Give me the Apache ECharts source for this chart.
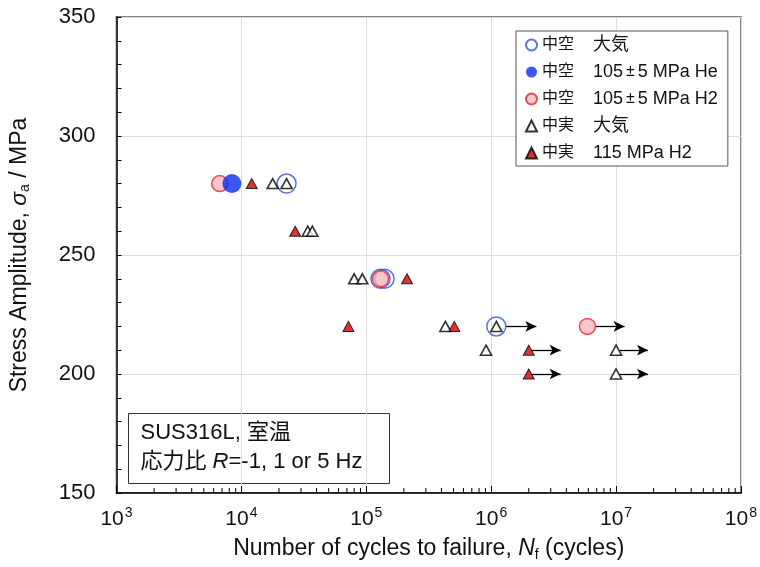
<!DOCTYPE html>
<html>
<head>
<meta charset="utf-8">
<script src="https://cdn.jsdelivr.net/npm/echarts@6/dist/echarts.min.js"></script>
<style>
  html, body { margin: 0; padding: 0; background: #fff; }
  #chart { width: 760px; height: 567px; }
</style>
</head>
<body>
<div id="chart"></div>
<script>
const FONT = '"Liberation Sans", Arial, "Noto Sans CJK JP", sans-serif';

// series: [cycles, stress amplitude]
const hollowCircle = [[2.3e4, 280], [1.3e5, 240], [1.4e5, 240], [1.1e6, 220]];
const blueFilled = [[8.4e3, 280]];
const pinkCircle = [[6.7e3, 280], [1.3e5, 240], [5.9e6, 220]];
const hollowTri = [[1.78e4, 280], [2.3e4, 280], [3.4e4, 260], [3.7e4, 260], [8.0e4, 240], [9.3e4, 240],
  [4.3e5, 220], [1.1e6, 220], [9.1e5, 210], [1e7, 210], [1e7, 200]];
const redTri = [[1.21e4, 280], [2.7e4, 260], [2.12e5, 240], [7.2e4, 220], [5.07e5, 220], [2e6, 210], [2e6, 200]];

// run-out arrows: [line start cycles, arrow tip cycles, stress]
const runouts = [[1.32e6, 2.3e6, 220], [6.9e6, 1.17e7, 220], [2.1e6, 3.6e6, 210], [2.1e6, 3.6e6, 200],
  [1.07e7, 1.8e7, 210], [1.07e7, 1.8e7, 200]];

const legendLabels = {
  s1: ['中空', '大気'],
  s2: ['中空', '105', '±', '5 MPa He'],
  s3: ['中空', '105', '±', '5 MPa H2'],
  s4: ['中実', '大気'],
  s5: ['中実', '115 MPa H2']
};

const minorTicksX = [];
[1e3, 1e4, 1e5, 1e6, 1e7].forEach(function (d) {
  for (let k = 2; k <= 9; k++) minorTicksX.push([k * d, 150]);
});

const chart = echarts.init(document.getElementById('chart'));

const option = {
  animation: false,
  textStyle: { fontFamily: FONT },
  grid: {
    left: 116, right: 17, top: 17, bottom: 71,
    show: true, borderColor: '#808080', borderWidth: 1.8
  },
  legend: {
    orient: 'vertical',
    left: 516, top: 31,
    padding: [4, 10, 3, 9],
    itemGap: 7,
    itemWidth: 11, itemHeight: 11,
    backgroundColor: '#fff',
    borderColor: '#555', borderWidth: 1,
    data: ['s1', 's2', 's3', 's4', 's5'],
    formatter: function (name) {
      const l = legendLabels[name];
      let s = '{a|' + l[0] + '}{b|' + l[1] + '}';
      if (l.length > 2) s += '{pm|' + l[2] + '}{b|' + l[3] + '}';
      return s;
    },
    textStyle: {
      fontSize: 18, color: '#111', fontFamily: FONT, lineHeight: 20,
      rich: {
        a: { fontSize: 16, width: 51, lineHeight: 20, fontFamily: FONT, color: '#111' },
        b: { fontSize: 18, lineHeight: 20, fontFamily: FONT, color: '#111' },
        pm: { fontSize: 16, lineHeight: 20, padding: [0, 3, 0, 3], fontFamily: FONT, color: '#111' }
      }
    }
  },
  xAxis: {
    type: 'log',
    logBase: 10,
    min: 1e3, max: 1e8,
    name: '{n|Number of cycles to failure, }{i|N}{sub|f}{n| (cycles)}',
    nameLocation: 'middle',
    nameGap: 43,
    nameTextStyle: {
      rich: {
        n: { fontSize: 23, color: '#111', fontFamily: FONT },
        i: { fontSize: 23, color: '#111', fontStyle: 'italic', fontFamily: FONT },
        sub: { fontSize: 14, color: '#111', padding: [12, 0, 0, 0], fontFamily: FONT }
      }
    },
    axisLine: { lineStyle: { color: '#000', width: 1.5 } },
    axisTick: { inside: true, length: 7, lineStyle: { color: '#000' } },
    splitLine: { show: true, lineStyle: { color: '#ddd', width: 1 } },
    axisLabel: {
      margin: 13,
      formatter: function (v) {
        return '{b|10}{s|' + Math.round(Math.log10(v)) + '}';
      },
      rich: {
        b: { fontSize: 21, color: '#111', fontFamily: FONT },
        s: { fontSize: 14, color: '#111', padding: [0, 0, 12, 1], fontFamily: FONT }
      }
    }
  },
  yAxis: {
    type: 'value',
    min: 150, max: 350, interval: 50,
    name: '{n|Stress Amplitude, }{i|\u03c3}{sub|a}{n| / MPa}',
    nameLocation: 'middle',
    nameGap: 84,
    nameRotate: 90,
    nameTextStyle: {
      rich: {
        n: { fontSize: 23, color: '#111', fontFamily: FONT },
        i: { fontSize: 23, color: '#111', fontStyle: 'italic', fontFamily: FONT },
        sub: { fontSize: 14, color: '#111', padding: [12, 0, 0, 0], fontFamily: FONT }
      }
    },
    axisLine: { show: true, lineStyle: { color: '#000', width: 1.5 } },
    axisTick: { inside: true, length: 5, lineStyle: { color: '#000' } },
    minorTick: { show: true, splitNumber: 5, length: 5, lineStyle: { color: '#000' } },
    splitLine: { show: true, lineStyle: { color: '#ddd', width: 1 } },
    axisLabel: { fontSize: 22, color: '#111', margin: 21, fontFamily: FONT }
  },
  graphic: [{
    type: 'group',
    left: 128, top: 413,
    z: 100,
    children: [{
      type: 'rect',
      shape: { x: 0, y: 0, width: 261, height: 70 },
      style: { fill: '#fff', stroke: '#333', lineWidth: 1 }
    }, {
      type: 'text',
      x: 12, y: 8,
      style: { text: 'SUS316L, 室温', font: '22px ' + FONT, fill: '#111' }
    }, {
      type: 'text',
      x: 12, y: 37,
      style: {
        text: '{n|応力比 }{i|R}{n|=-1, 1 or 5 Hz}',
        rich: {
          n: { fontSize: 22, fontFamily: FONT, fill: '#111' },
          i: { fontSize: 22, fontFamily: FONT, fontStyle: 'italic', fill: '#111' }
        }
      }
    }]
  }],
  series: [
    {
      name: 's1', type: 'scatter', data: hollowCircle, z: 2,
      symbol: 'circle', symbolSize: 19,
      itemStyle: { color: 'rgba(255,255,255,0)', borderColor: '#2f4fd6', borderWidth: 1.5 },
      markLine: {
        silent: true, symbol: ['none', 'arrow'], symbolSize: [8, 11],
        label: { show: false },
        lineStyle: { color: '#000', width: 1.3, type: 'solid' },
        data: runouts.map(function (r) {
          return [{ coord: [r[0], r[2]] }, { coord: [r[1], r[2]] }];
        })
      }
    },
    {
      name: 's2', type: 'scatter', data: blueFilled, z: 4,
      symbol: 'circle', symbolSize: 19,
      itemStyle: { color: '#0a2cf2' }
    },
    {
      name: 's3', type: 'scatter', data: pinkCircle, z: 3,
      symbol: 'circle', symbolSize: 16,
      itemStyle: { color: '#f6b9c1', borderColor: '#e3262e', borderWidth: 1.5 }
    },
    {
      name: 's4', type: 'scatter', data: hollowTri, z: 5,
      symbol: 'triangle', symbolSize: [11, 10],
      itemStyle: { color: '#fff', borderColor: '#000', borderWidth: 1.6 }
    },
    {
      name: 's5', type: 'scatter', data: redTri, z: 5,
      symbol: 'triangle', symbolSize: [11, 10],
      itemStyle: { color: '#d40000', borderColor: '#000', borderWidth: 1 }
    },
    {
      type: 'custom', data: minorTicksX, silent: true, clip: false, z: 6,
      renderItem: function (params, api) {
        const p = api.coord([api.value(0), api.value(1)]);
        return {
          type: 'line',
          shape: { x1: p[0], y1: p[1], x2: p[0], y2: p[1] - 5 },
          style: { stroke: '#000', lineWidth: 1 }
        };
      }
    }
  ]
};

chart.setOption(option);
window.addEventListener('resize', () => chart.resize());
</script>
</body>
</html>
